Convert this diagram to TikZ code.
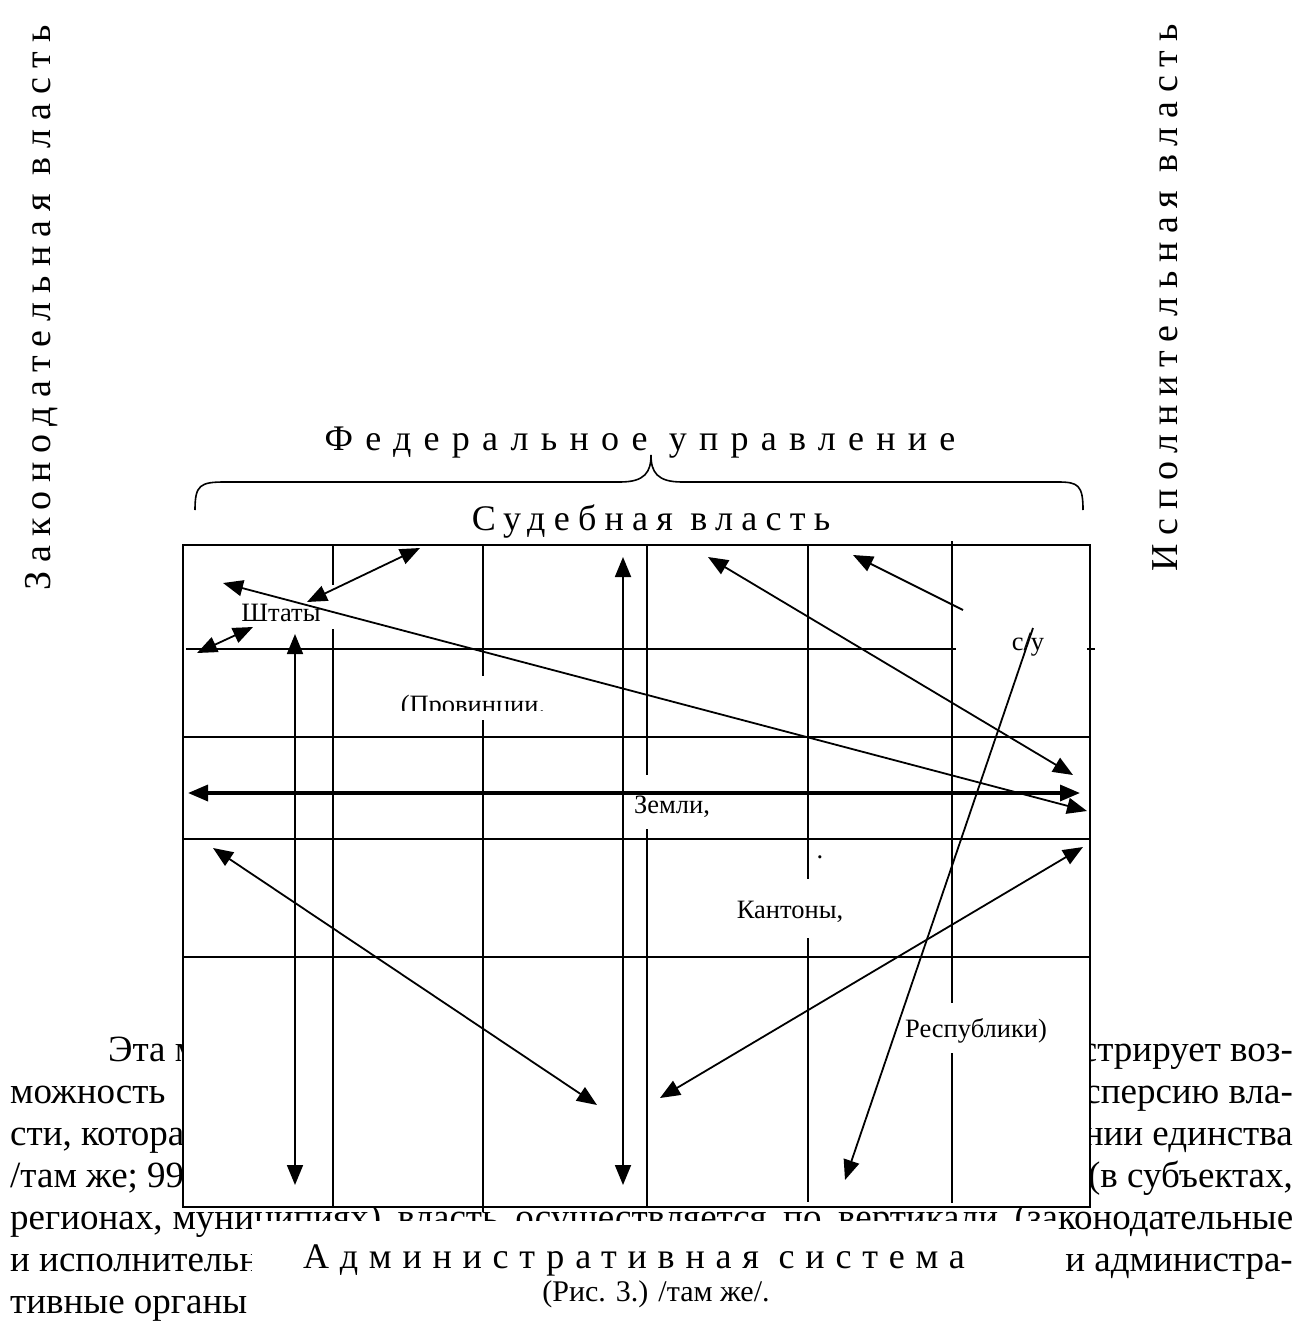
\documentclass[tikz,border=0pt]{standalone}
\usepackage{fontspec}
\setmainfont{Liberation Serif}
\usetikzlibrary{arrows.meta}

\begin{document}
\begin{tikzpicture}[x=1pt, y=-1pt, >={Triangle[length=20pt,width=16pt]},
    ln/.style={line width=1.8pt},
    thick arrow/.style={line width=3.4pt},
    para/.style={font=\fontsize{37}{42}\selectfont, inner sep=0pt},
    lbl/.style={font=\fontsize{26.5}{30}\selectfont, inner sep=0pt, anchor=base},
    head/.style={font=\fontsize{36}{40}\selectfont\addfontfeatures{LetterSpace=#1}, inner sep=0pt},
    head/.default=30,
    side/.style={font=\fontsize{38}{42}\selectfont\addfontfeatures{LetterSpace=#1}, inner sep=0pt, rotate=90}]
    \useasboundingbox (0,0) rectangle (1299,1322);

    \node[side=24] (zak) at (42,308) {Законодательная власть};
    \node[side=23] (isp) at (1165,298) {Исполнительная власть};
    \node[head=34, anchor=base] (fed) at (640,450) {Федеральное управление};
    \draw[line width=1.6pt] (195,510) .. controls (195,485) and (200,482) .. (225,482) -- (620,482)
        .. controls (645,482) and (651,472) .. (651,455) .. controls (651,472) and (657,482) .. (682,482)
        -- (1058,482) .. controls (1078,482) and (1083,485) .. (1083,510);
    \node[head=23, anchor=base] (sud) at (651,530) {Судебная власть};

    \node[para, anchor=base west] (p1a) at (108,1061) {Эта м};
    \node[para, anchor=base east] (p1b) at (1293,1061) {стрирует воз-};
    \node[para, anchor=base west] (p2a) at (10,1103) {можность};
    \node[para, anchor=base east] (p2b) at (1293,1103) {сперсию вла-};
    \node[para, anchor=base west] (p3a) at (10,1145) {сти, котора};
    \node[para, anchor=base east] (p3b) at (1293,1145) {нии единства};
    \node[para, anchor=base west] (p4a) at (10,1187) {/там же; 99};
    \node[para, anchor=base east] (p4b) at (1293,1187) {(в субъектах,};
    \node[para, anchor=base west] (p5) at (10,1229)
        {\makebox[1283pt][s]{регионах,\hspace{10pt}муниципиях) власть осуществляется по вертикали (законодательные}};
    \node[para, anchor=base west] (p6a) at (10,1271) {и исполнительн};
    \node[para, anchor=base east] (p6b) at (1293,1271) {и администра-};
    \node[para, anchor=base west] (p7) at (10,1313) {тивные органы};

    \draw[ln, fill=white] (183,545) rectangle (1090,1207);
    \draw[ln] (186,649) -- (1095,649);
    \foreach \y in {737,839,957}
        \draw[ln] (183,\y) -- (1090,\y);
    \draw[ln] (333,545) -- (333,1207);
    \draw[ln] (483,545) -- (483,1212);
    \draw[ln] (647,545) -- (647,1207);
    \draw[ln] (808,545) -- (808,1202);
    \draw[ln] (952,541) -- (952,1203);

    \fill[white] (252,1221) rectangle (1058,1322);
    \node[head, anchor=base] (adm) at (634,1268) {Административная система};
    \node[font=\fontsize{30}{34}\selectfont, inner sep=0pt, anchor=base] (ris) at (656,1301) {(Рис. 3.) /там же/.};

    \fill[white] (236,585) rectangle (340,629);
    \fill[white] (395,676) rectangle (555,720);
    \fill[white] (628,775) rectangle (716,829);
    \fill[white] (730,879) rectangle (850,938);
    \fill[white] (900,1003) rectangle (1055,1053);
    \fill[white] (956,632) rectangle (1087,668);

    \node[lbl] (shtaty) at (281,621) {Штаты};
    \begin{scope}
        \clip (395,676) rectangle (555,710);
        \node[lbl] (prov) at (473,713) {(Провинции.};
    \end{scope}
    \node[lbl] (zemli) at (672,813) {Земли,};
    \node[lbl] (kant) at (790,918) {Кантоны,};
    \node[lbl] (resp) at (976,1037) {Республики)};
    \node[lbl] (su) at (1028,650) {с/у};
    \node[lbl] (pt) at (820,858) {.};

    \foreach \n/\x/\y in {a1/197/653, b1/253/627, a2/307/602, b2/420/548, a3/223/583, b3/1087/811,
        a4/295/634, b4/295/1185, a5/623/557, b5/623/1185, a6/708/557, b6/1073/775,
        a7/963/610, b7/853/555, a8/1033/628, b8/845/1180, a9/213/848, b9/597/1105,
        a10/1083/847, b10/660/1098, a11/188/793, b11/1080/793}
        \coordinate (\n) at (\x,\y);
    \foreach \s/\t in {a1/b1, a2/b2, a3/b3, a4/b4, a5/b5, a6/b6, a9/b9, a10/b10}
        \draw[ln, <->] (\s) -- (\t);
    \draw[ln, ->] (a7) -- (b7);
    \draw[ln, ->] (a8) -- (b8);
    \draw[thick arrow, <->] (a11) -- (b11);
\end{tikzpicture}
\end{document}
